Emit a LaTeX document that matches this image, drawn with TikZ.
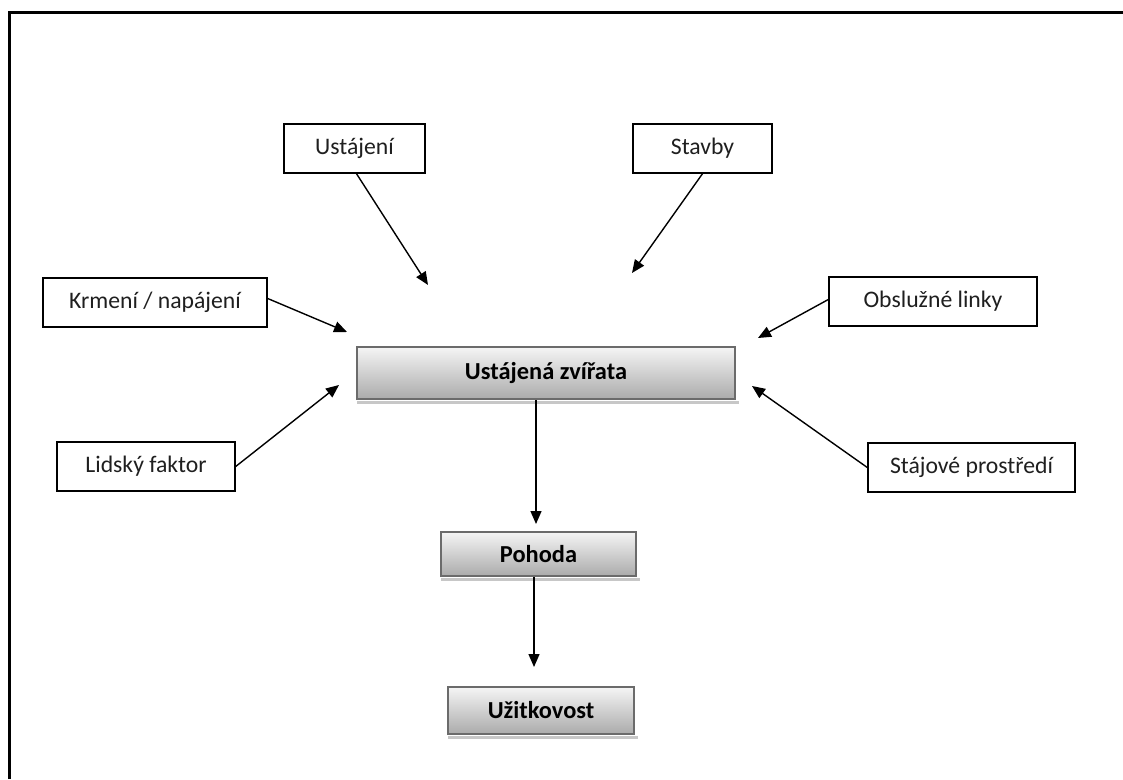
\documentclass[tikz,border=0pt]{standalone}
\usepackage{fontspec}
\setmainfont{Carlito}
\usetikzlibrary{arrows.meta}
\begin{document}
\begin{tikzpicture}[x=1pt,y=-1pt,
  factor/.style={draw=black, line width=1.4pt, fill=white, inner sep=0pt,
    minimum height=49pt, text=black!88, font=\fontsize{23.7}{28}\selectfont},
  core/.style={draw=black!58, line width=2pt, top color=black!4,
    bottom color=black!33, inner sep=0pt, font=\bfseries\fontsize{24.4}{29}\selectfont},
  link/.style={line width=1.4pt, -{Triangle[length=13pt,width=11pt]}},
  shadowstrip/.style={fill=black!22}]
  \useasboundingbox (0,0) rectangle (1123,779);
  % open page frame (left and top edges)
  \draw[line width=3pt] (9.5,779) -- (9.5,12.5) -- (1123,12.5);

  % influencing factors
  \node[factor, minimum width=141pt] (ust) at (354.5,148.5) {Ustájení};
  \node[factor, minimum width=139pt] (stav) at (702.5,148.5) {Stavby};
  \node[factor, minimum width=224pt] (krm) at (155,302.5) {Krmení / napájení};
  \node[factor, minimum width=208pt] (obs) at (933,301.5) {Obslužné linky};
  \node[factor, minimum width=178pt] (lid) at (146,466.5) {Lidský faktor};
  \node[factor, minimum width=207pt] (staj) at (971.5,467.5) {Stájové prostředí};

  % central chain
  \node[core, minimum width=378pt, minimum height=52pt] (main) at (546,373) {Ustájená zvířata};
  \node[core, minimum width=195pt, minimum height=44pt] (poh) at (538.5,554) {Pohoda};
  \node[core, minimum width=186pt, minimum height=47pt] (uzi) at (541,710.5) {Užitkovost};
  \foreach \b in {main,poh,uzi}
    \fill[shadowstrip] ([xshift=1pt,yshift=-1pt]\b.south west) rectangle ([xshift=3pt,yshift=-4pt]\b.south east);

  % arrow tips pointing at the central box
  \coordinate (tust) at (428,285);
  \coordinate (tstav) at (632,273);
  \coordinate (tkrm) at (347,332);
  \coordinate (tobs) at (758,338);
  \coordinate (tlid) at (339,385);
  \coordinate (tstaj) at (752,386);
  \coordinate (tpoh) at (536,524);
  \coordinate (tuzi) at (534,667);

  \draw[link] ([xshift=2pt]ust.south) -- (tust);
  \draw[link] (stav.south) -- (tstav);
  \draw[link] ([yshift=4pt]krm.east) -- (tkrm);
  \draw[link] ([yshift=2pt]obs.west) -- (tobs);
  \draw[link] (lid.east) -- (tlid);
  \draw[link] (staj.west) -- (tstaj);
  \draw[link] (main.south -| tpoh) -- (tpoh);
  \draw[link] (poh.south -| tuzi) -- (tuzi);
\end{tikzpicture}
\end{document}
